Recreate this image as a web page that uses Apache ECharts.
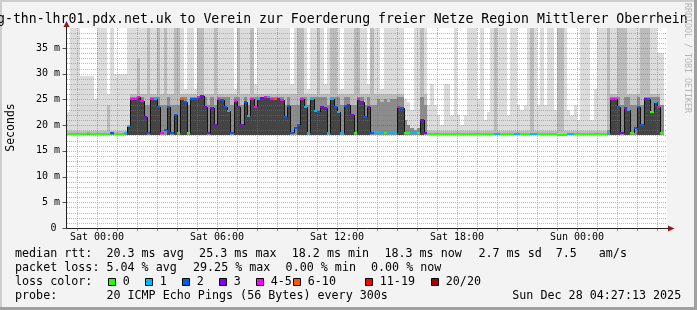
<!DOCTYPE html>
<html><head><meta charset="utf-8">
<script src="https://cdn.jsdelivr.net/npm/echarts@6/dist/echarts.min.js"></script>
<style>html,body{margin:0;padding:0;background:#f3f3f3}#c{width:697px;height:310px}</style>
</head><body><div id="c"></div>
<script>
// ---------------- data ----------------
// time slots of 10 minutes, first slot starts Fri 22:30 (= -1.5 h relative to Sat 00:00)
const SLOT_START_H = -1.5;
const SLOT_H = 1 / 6;
const MIN_RTT = 18.0;          // lowest ping (ms)
const X_MIN = -1.5, X_MAX = 28.5, Y_MAX = 38.9;

const medianRtt = [
  18.3,18.3,18.3,18.3,18.2,18.2,18.5,18.3,18.3,   // Fri 22:30-23:50
  18.3,18.3,18.3,18.3,18.4,18.2,   // Sat 00
  18.2,18.3,18.4,19.8,25.0,25.0,   // 01
  25.5,24.7,21.5,18.5,25.0,25.0,   // 02
  23.5,18.5,19.0,23.5,18.5,22.0,   // 03
  18.5,25.0,24.5,18.5,25.0,25.0,   // 04
  25.5,25.7,23.5,18.5,23.3,20.0,   // 05
  25.0,24.8,23.5,22.8,18.5,24.7,   // 06
  23.5,20.0,24.5,21.8,25.0,23.5,   // 07
  25.0,25.2,25.5,25.5,25.0,25.0,   // 08
  25.0,24.8,21.5,23.8,18.5,19.5,   // 09
  20.0,25.0,23.5,18.5,25.0,22.8,   // 10
  22.5,23.5,23.3,18.5,25.0,23.5,   // 11
  22.5,18.5,23.8,24.0,22.0,18.5,   // 12
  25.0,24.5,21.5,23.5,18.5,18.5,   // 13
  18.5,18.4,18.4,18.4,18.4,18.4,   // 14
  23.5,23.3,18.4,18.4,18.4,18.4,   // 15
  18.4,21.0,18.5,18.3,18.3,18.3,   // 16
  18.3,18.3,18.3,18.3,18.3,18.3,   // 17
  18.3,18.3,18.3,18.3,18.3,18.3,   // 18
  18.3,18.3,18.3,18.3,18.3,18.3,   // 19
  18.3,18.3,18.3,18.3,18.3,18.3,   // 20
  18.3,18.3,18.3,18.3,18.3,18.3,   // 21
  18.3,18.3,18.3,18.3,18.3,18.3,   // 22
  18.0,18.0,18.0,18.3,18.3,18.3,   // 23
  18.3,18.3,18.3,18.3,18.3,18.3,   // Sun 00
  18.3,18.3,18.3,18.4,25.0,25.0,   // 01
  23.5,18.5,23.3,23.0,18.5,19.5,   // 02
  23.5,20.0,25.0,25.0,22.5,24.5,   // 03
  23.5,18.5,null                   // 04
];
// loss colour class per slot: 0 -> "0", 1 -> "1", 2 -> "2", 3 -> "3", 4 -> "4-5", 5 -> "6-10", 6 -> "11-19", 7 -> "20/20"
const lossIdx = [
  0,0,0,0,0,0,0,0,0,
  0,0,0,0,2,0,
  0,0,1,1,4,4,
  4,4,3,2,4,1,
  2,4,2,2,2,2,
  0,5,2,0,2,2,
  4,3,3,3,3,3,
  4,2,2,1,2,4,
  3,3,2,1,4,4,
  1,3,4,1,4,5,
  3,4,2,2,2,2,
  2,4,1,1,1,1,
  2,3,3,1,1,2,
  1,1,2,3,3,0,
  4,3,2,3,2,1,
  1,1,0,1,1,1,
  4,2,0,0,1,1,
  0,3,3,0,0,0,
  0,0,0,0,0,0,
  0,0,0,0,0,0,
  0,0,0,0,0,1,
  1,0,0,0,0,1,
  1,0,0,0,1,1,
  0,0,0,0,0,0,
  0,0,0,1,1,0,
  0,0,0,0,0,0,
  0,0,0,1,4,4,
  2,3,3,1,0,2,
  2,2,3,2,0,1,
  4,0,null
];
// highest ping per slot (outer, lightest smoke); 45 = beyond the top of the graph
const maxRtt = [
  22.5,45,45,45,29.5,29.5,29.5,29.5,25,
  45,45,45,26,45,30,
  30,30,30,45,45,45,
  45,45,45,45,45,45,
  45,45,45,45,45,45,
  45,45,27,45,45,27,
  45,45,45,45,45,45,
  45,45,45,45,45,27,
  45,45,45,45,45,28,
  45,45,45,45,45,45,
  45,45,45,45,28,45,
  45,45,45,27,45,45,
  45,45,28,45,45,45,
  45,27,45,45,45,45,
  45,45,45,28,45,45,
  45,27,45,45,45,45,
  45,45,25,24.5,23,45,
  45,45,45,24,28,24,
  22,20,28,28,22,45,
  22,20,22,45,45,45,
  25,45,21,22.5,45,45,
  45,45,45,22,45,45,
  24,23,24,45,45,45,
  24,45,24,45,45,23,
  45,45,45,23,22,24,
  21,45,45,45,21,27,
  45,45,45,45,45,45,
  45,45,45,45,45,45,
  45,45,45,45,45,45,
  34,34,null
];
// second-highest ping per slot (medium smoke)
const p2Rtt = [
  18.8,18.8,18.8,18.8,18.8,18.8,18.8,18.8,18.8,
  18.8,18.8,18.8,24,18.8,18.8,
  18.8,18.8,18.8,20,26,26,
  33,26,26,45,26,26,
  45,26,45,26,26,45,
  45,26,26,26,26,26,
  45,45,26,26,26,45,
  26,26,26,26,26,26,
  45,26,26,26,45,26,
  26,26,26,26,26,26,
  26,26,26,26,26,26,
  45,45,26,26,26,26,
  45,26,26,26,45,45,
  26,26,26,26,26,45,
  45,26,26,26,45,26,
  26,26,26,26,26,26,
  26,26,21,20,19.5,19,
  19.5,45,26,18.8,18.8,18.8,
  18.8,18.8,18.8,18.8,18.8,18.8,
  18.8,18.8,18.8,18.8,18.8,18.8,
  18.8,18.8,18.8,18.8,18.8,45,
  18.8,18.8,18.8,18.8,18.8,18.8,
  18.8,18.8,18.8,18.8,45,18.8,
  18.8,18.8,18.8,18.8,18.8,18.8,
  45,45,18.8,18.8,18.8,18.8,
  18.8,18.8,18.8,18.8,18.8,18.8,
  18.8,18.8,18.8,45,26,26,
  45,45,45,26,26,26,
  26,45,45,45,26,26,
  26,18.8,null
];
// upper edge of the dense inner smoke per slot
const coreRtt = [
  18.3,18.3,18.3,18.3,18.3,18.3,18.3,18.3,18.3,
  18.3,18.3,18.3,18.3,18.3,18.3,
  18.3,18.3,18.3,19.5,25.5,25.5,
  25.5,25.5,24,24,25.5,25.5,
  25.5,24,24,25.5,24,24,
  24,25.5,25.5,24,25.5,25.5,
  25.5,25.5,25.5,24,25.5,24,
  25.5,25.5,25.5,25.5,24,25.5,
  25.5,24,25.5,24,25.5,25.5,
  25.5,25.5,25.5,25.5,25.5,25.5,
  25.5,25.5,24,25.5,24,24,
  24,25.5,25.5,24,25.5,25.5,
  25.5,25.5,25.5,24,25.5,25.5,
  25.5,24,25.5,25.5,24,24,
  25.5,25.5,24,25.5,24,24,
  25,24.5,25,24.5,25,25,
  25.5,25.5,21,20,19.5,19,
  19.5,25.5,24,18.3,18.3,18.3,
  18.3,18.3,18.3,18.3,18.3,18.3,
  18.3,18.3,18.3,18.3,18.3,18.3,
  18.3,18.3,18.3,18.3,18.3,18.3,
  18.3,18.3,18.3,18.3,18.3,18.3,
  18.3,18.3,18.3,18.3,18.3,18.3,
  18.3,18.3,18.3,18.3,18.3,18.3,
  18.3,18.3,18.3,18.3,18.3,18.3,
  18.3,18.3,18.3,18.3,18.3,18.3,
  18.3,18.3,18.3,19,25.5,25.5,
  25.5,24,25.5,25.5,24,24,
  25.5,24,25.5,25.5,25.5,25.5,
  25.5,24,null
];

const lossColors = ['#26ff00','#00b8ff','#0059ff','#7e00ff','#ff00ff','#ff5500','#ff0000','#a10000'];
const lossLabels = ['0','1','2','3','4-5','6-10','11-19','20/20'];

const xTickHours  = [0, 6, 12, 18, 24];
const xTickLabels = ['Sat 00:00','Sat 06:00','Sat 12:00','Sat 18:00','Sun 00:00'];
const yTickValues = [0, 5, 10, 15, 20, 25, 30, 35];
const yTickLabels = ['0','5 m','10 m','15 m','20 m','25 m','30 m','35 m'];

const titleText = 'g-thn-lhr01.pdx.net.uk to Verein zur Foerderung freier Netze Region Mittlerer Oberrhein';
const rowHeads  = ['median rtt:', 'packet loss:', 'loss color:', 'probe:'];
const rttStats  = ['20.3 ms avg','25.3 ms max','18.2 ms min','18.3 ms now','2.7 ms sd','7.5','am/s'];
const lossStats = ['5.04 % avg','29.25 % max','0.00 % min','0.00 % now'];
const probeText = '20 ICMP Echo Pings (56 Bytes) every 300s';
const stampText = 'Sun Dec 28 04:27:13 2025';
const watermark = 'RRDTOOL / TOBI OETIKER';

// ---------------- layout ----------------
const MONO = '"DejaVu Sans Mono", monospace';
const rowY = [254.2, 268.2, 282.2, 296.2];
const rttStatX  = [106.4, 199.1, 291.7, 384.4, 478.4, 555.8, 598.8];
const lossStatX = [106.4, 193.0, 285.6, 371.0];
const lossBoxX  = [108, 145, 182, 219, 256, 293, 365, 431];

const C_LIGHT = '#dcdcdc', C_MED = '#bcbcbc', C_CORE = '#8c8c8c', C_DARK = '#444444';
const C_MGRID = 'rgba(255,0,0,0.38)', C_GRID = 'rgba(120,120,120,0.5)';

const slotData = [];
medianRtt.forEach((m, i) => { if (m != null) slotData.push([SLOT_START_H + i * SLOT_H, i, MIN_RTT]); });

function px(api, t) { return Math.round(api.coord([t, 0])[0]); }
function py(api, v) { return Math.round(api.coord([X_MIN, Math.min(v, Y_MAX)])[1]); }

function renderSmoke(params, api) {
  const t0 = api.value(0), i = api.value(1);
  const x0 = px(api, t0), x1 = px(api, t0 + SLOT_H);
  const base = py(api, MIN_RTT);
  const ch = [];
  const band = (top, fill) => {
    const yt = py(api, top);
    if (base - yt > 0) ch.push({type: 'rect', shape: {x: x0, y: yt, width: x1 - x0, height: base - yt}, style: {fill: fill}});
  };
  band(maxRtt[i], C_LIGHT);
  band(p2Rtt[i], C_MED);
  band(coreRtt[i], C_CORE);
  if (medianRtt[i] > 19.5) band(medianRtt[i], C_DARK);
  return {type: 'group', children: ch};
}

function renderMedian(params, api) {
  const t0 = api.value(0), i = api.value(1);
  const m = medianRtt[i];
  const x0 = px(api, t0), x1 = px(api, t0 + SLOT_H);
  const y = py(api, m);
  const ch = [];
  const prev = i > 0 ? medianRtt[i - 1] : null;
  if (prev != null && Math.abs(prev - m) > 0.6) {
    const yp = py(api, prev);
    ch.push({type: 'line', shape: {x1: x0 + 0.5, y1: Math.min(y, yp), x2: x0 + 0.5, y2: Math.max(y, yp)}, style: {stroke: '#111', lineWidth: 1}});
  }
  ch.push({type: 'rect', shape: {x: x0, y: y - 1, width: x1 - x0, height: 2}, style: {fill: lossColors[lossIdx[i]]}});
  return {type: 'group', children: ch};
}

function renderGrid(params, api) {
  const cs = params.coordSys;
  const L = cs.x, R = cs.x + cs.width, T = cs.y, B = cs.y + cs.height;
  const ch = [];
  for (let v = 1; v < Y_MAX; v++) {
    const y = py(api, v) + 0.5;
    ch.push({type: 'line', shape: {x1: L, y1: y, x2: R, y2: y},
      style: {stroke: v % 5 === 0 ? C_MGRID : C_GRID, lineWidth: 1, lineDash: [1, 1]}});
  }
  for (let h = Math.ceil(X_MIN); h < X_MAX; h++) {
    const x = px(api, h) + 0.5;
    const major = ((h % 3) + 3) % 3 === 0;
    ch.push({type: 'line', shape: {x1: x, y1: T, x2: x, y2: B},
      style: {stroke: major ? C_MGRID : C_GRID, lineWidth: 1, lineDash: [1, 1]}});
    ch.push({type: 'line', shape: {x1: x, y1: B + 1, x2: x, y2: B + 3},
      style: {stroke: major ? 'rgba(255,0,0,0.6)' : 'rgba(120,120,120,0.7)', lineWidth: 1}});
  }
  return {type: 'group', children: ch};
}

function renderFrame(params, api) {
  const cs = params.coordSys;
  const L = cs.x - 0.5, R = cs.x + cs.width, T = cs.y, B = cs.y + cs.height + 0.5;
  const ch = [];
  yTickValues.forEach(v => {
    const y = py(api, v) + 0.5;
    ch.push({type: 'line', shape: {x1: L - 4, y1: y, x2: L, y2: y}, style: {stroke: '#555', lineWidth: 1}});
  });
  ch.push({type: 'line', shape: {x1: L, y1: B, x2: R + 2, y2: B}, style: {stroke: '#222', lineWidth: 1}});
  ch.push({type: 'line', shape: {x1: L, y1: B, x2: L, y2: T - 1}, style: {stroke: '#222', lineWidth: 1}});
  ch.push({type: 'polygon', shape: {points: [[R + 1, B - 3], [R + 7.5, B], [R + 1, B + 3]]}, style: {fill: '#8e1b1b'}});
  ch.push({type: 'polygon', shape: {points: [[L - 3, T - 1], [L, T - 7], [L + 3, T - 1]]}, style: {fill: '#8e1b1b'}});
  return {type: 'group', children: ch};
}

// ---------------- graphic texts ----------------
function txt(x, y, s, size) {
  return {type: 'text', z: 100, silent: true,
    style: {x: x, y: y, text: s, font: size + 'px ' + MONO, fill: '#000',
      textAlign: 'left', align: 'left', textVerticalAlign: 'middle', verticalAlign: 'middle'}};
}
const graphics = [];
// 3D border
graphics.push({type: 'rect', z: 90, silent: true, shape: {x: 0, y: 0, width: 697, height: 2}, style: {fill: '#cdcdcd'}});
graphics.push({type: 'rect', z: 90, silent: true, shape: {x: 0, y: 0, width: 2, height: 310}, style: {fill: '#cdcdcd'}});
graphics.push({type: 'rect', z: 91, silent: true, shape: {x: 0, y: 307, width: 697, height: 3}, style: {fill: '#a0a0a0'}});
graphics.push({type: 'rect', z: 91, silent: true, shape: {x: 694, y: 0, width: 3, height: 310}, style: {fill: '#a0a0a0'}});
graphics.push(txt(-3, 20, titleText, 13.2));
const sec = txt(0, 0, 'Seconds', 11.5);
sec.style.textAlign = 'center'; sec.style.align = 'center';
sec.x = 10.7; sec.y = 127.5; sec.rotation = Math.PI / 2;
graphics.push(sec);
const wm = txt(0, 0, watermark, 8.3);
wm.style.textAlign = 'center'; wm.style.align = 'center'; wm.style.fill = '#b4b4b4';
wm.x = 687; wm.y = 58; wm.rotation = -Math.PI / 2;
graphics.push(wm);
rowHeads.forEach((s, k) => graphics.push(txt(15, rowY[k], s, 11.7)));
rttStats.forEach((s, k) => graphics.push(txt(rttStatX[k], rowY[0], s, 11.7)));
lossStats.forEach((s, k) => graphics.push(txt(lossStatX[k], rowY[1], s, 11.7)));
lossLabels.forEach((s, k) => {
  graphics.push({type: 'rect', z: 100, silent: true, shape: {x: lossBoxX[k] + 0.5, y: 278.5, width: 7, height: 7},
    style: {fill: lossColors[k], stroke: '#000', lineWidth: 1}});
  graphics.push(txt(lossBoxX[k] + 14.8, rowY[2], s, 11.7));
});
graphics.push(txt(106.4, rowY[3], probeText, 11.7));
graphics.push(txt(512.3, rowY[3], stampText, 11.7));

// ---------------- chart ----------------
const chart = echarts.init(document.getElementById('c'), null, {renderer: 'canvas'});
chart.setOption({
  animation: false,
  backgroundColor: '#f3f3f3',
  grid: {left: 67, right: 30, top: 28, bottom: 82, show: true, backgroundColor: '#ffffff', borderWidth: 0},
  xAxis: {
    type: 'value', min: X_MIN, max: X_MAX, interval: 1.5,
    axisLine: {show: false}, axisTick: {show: false}, splitLine: {show: false},
    axisLabel: {
      margin: 4, color: '#000', fontFamily: MONO, fontSize: 10, showMinLabel: true, showMaxLabel: true,
      formatter: v => { const k = xTickHours.findIndex(h => Math.abs(h - v) < 1e-6); return k >= 0 ? xTickLabels[k] : ''; }
    }
  },
  yAxis: {
    type: 'value', min: 0, max: Y_MAX, interval: 5,
    axisLine: {show: false}, axisTick: {show: false}, splitLine: {show: false},
    axisLabel: {
      margin: 7, color: '#000', fontFamily: MONO, fontSize: 10,
      rich: {z: {padding: [0, 3.5, 0, 0], fontFamily: MONO, fontSize: 10, color: '#000'}},
      formatter: v => { const k = yTickValues.findIndex(t => Math.abs(t - v) < 1e-6); if (k < 0) return ''; return k === 0 ? '{z|' + yTickLabels[k] + '}' : yTickLabels[k]; }
    }
  },
  graphic: graphics,
  series: [
    {type: 'custom', z: 2, silent: true, clip: false, renderItem: renderSmoke, data: slotData, encode: {x: 0, y: 2}},
    {type: 'custom', z: 3, silent: true, clip: false, renderItem: renderGrid, data: [[0, MIN_RTT]], encode: {x: 0, y: 1}},
    {type: 'custom', z: 4, silent: true, clip: false, renderItem: renderMedian, data: slotData, encode: {x: 0, y: 2}},
    {type: 'custom', z: 5, silent: true, clip: false, renderItem: renderFrame, data: [[0, MIN_RTT]], encode: {x: 0, y: 1}}
  ]
});
</script>
</body></html>
